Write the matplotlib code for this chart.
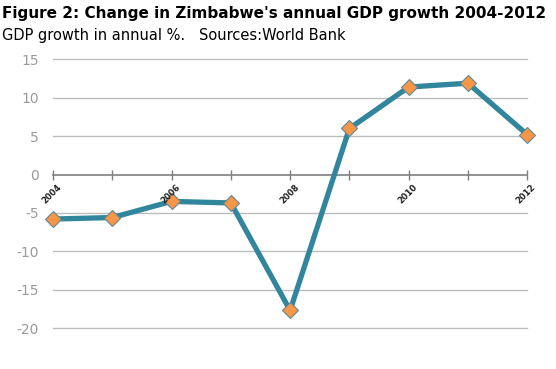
import matplotlib
matplotlib.use("Agg")
import matplotlib.pyplot as plt

# data
years = [2004, 2005, 2006, 2007, 2008, 2009, 2010, 2011, 2012]
gdp_growth = [-5.8, -5.6, -3.5, -3.7, -17.7, 6.0, 11.4, 11.9, 5.2]
label_years = [2004, 2006, 2008, 2010, 2012]
y_ticks = [-20, -15, -10, -5, 0, 5, 10, 15]

fig = plt.figure(figsize=(5.56, 3.69), dpi=100)
ax = fig.add_axes([0.0953, 0.111, 0.853, 0.728])

# grid lines
for t in y_ticks:
    if t != 0:
        ax.axhline(t, color="#bdbdbd", lw=1, zorder=1, clip_on=False)

ax.plot(years, gdp_growth, color="#31859C", lw=3.8, zorder=3,
        marker="D", markersize=8, markerfacecolor="#F79646",
        markeredgecolor="#5f8a96", markeredgewidth=0.8, clip_on=False)

ax.set_xlim(2004, 2012)
ax.set_ylim(-20, 15)
ax.set_yticks(y_ticks)
ax.set_yticklabels([str(t) for t in y_ticks])
ax.tick_params(axis="y", length=0, labelsize=10, labelcolor="#9a9a9a", pad=10)

for s in ["top", "right", "left"]:
    ax.spines[s].set_visible(False)
ax.spines["bottom"].set_position(("data", 0))
ax.spines["bottom"].set_color("#7f7f7f")
ax.spines["bottom"].set_linewidth(1.2)
ax.set_xticks(years)
ax.set_xticklabels([])
ax.tick_params(axis="x", direction="inout", length=7, width=1, color="#7f7f7f")

for y in label_years:
    ax.annotate(str(y), xy=(y, 0), xytext=(3, -6), textcoords="offset points",
                rotation=45, ha="right", va="top", rotation_mode="anchor",
                fontsize=6, fontweight="bold", color="#222222")

fig.text(0.004, 0.985, "Figure 2: Change in Zimbabwe's annual GDP growth 2004-2012",
         fontsize=11, fontweight="bold", ha="left", va="top")
fig.text(0.004, 0.925, "GDP growth in annual %.   Sources:World Bank",
         fontsize=10.5, ha="left", va="top")

fig.savefig("out.png", dpi=100)
